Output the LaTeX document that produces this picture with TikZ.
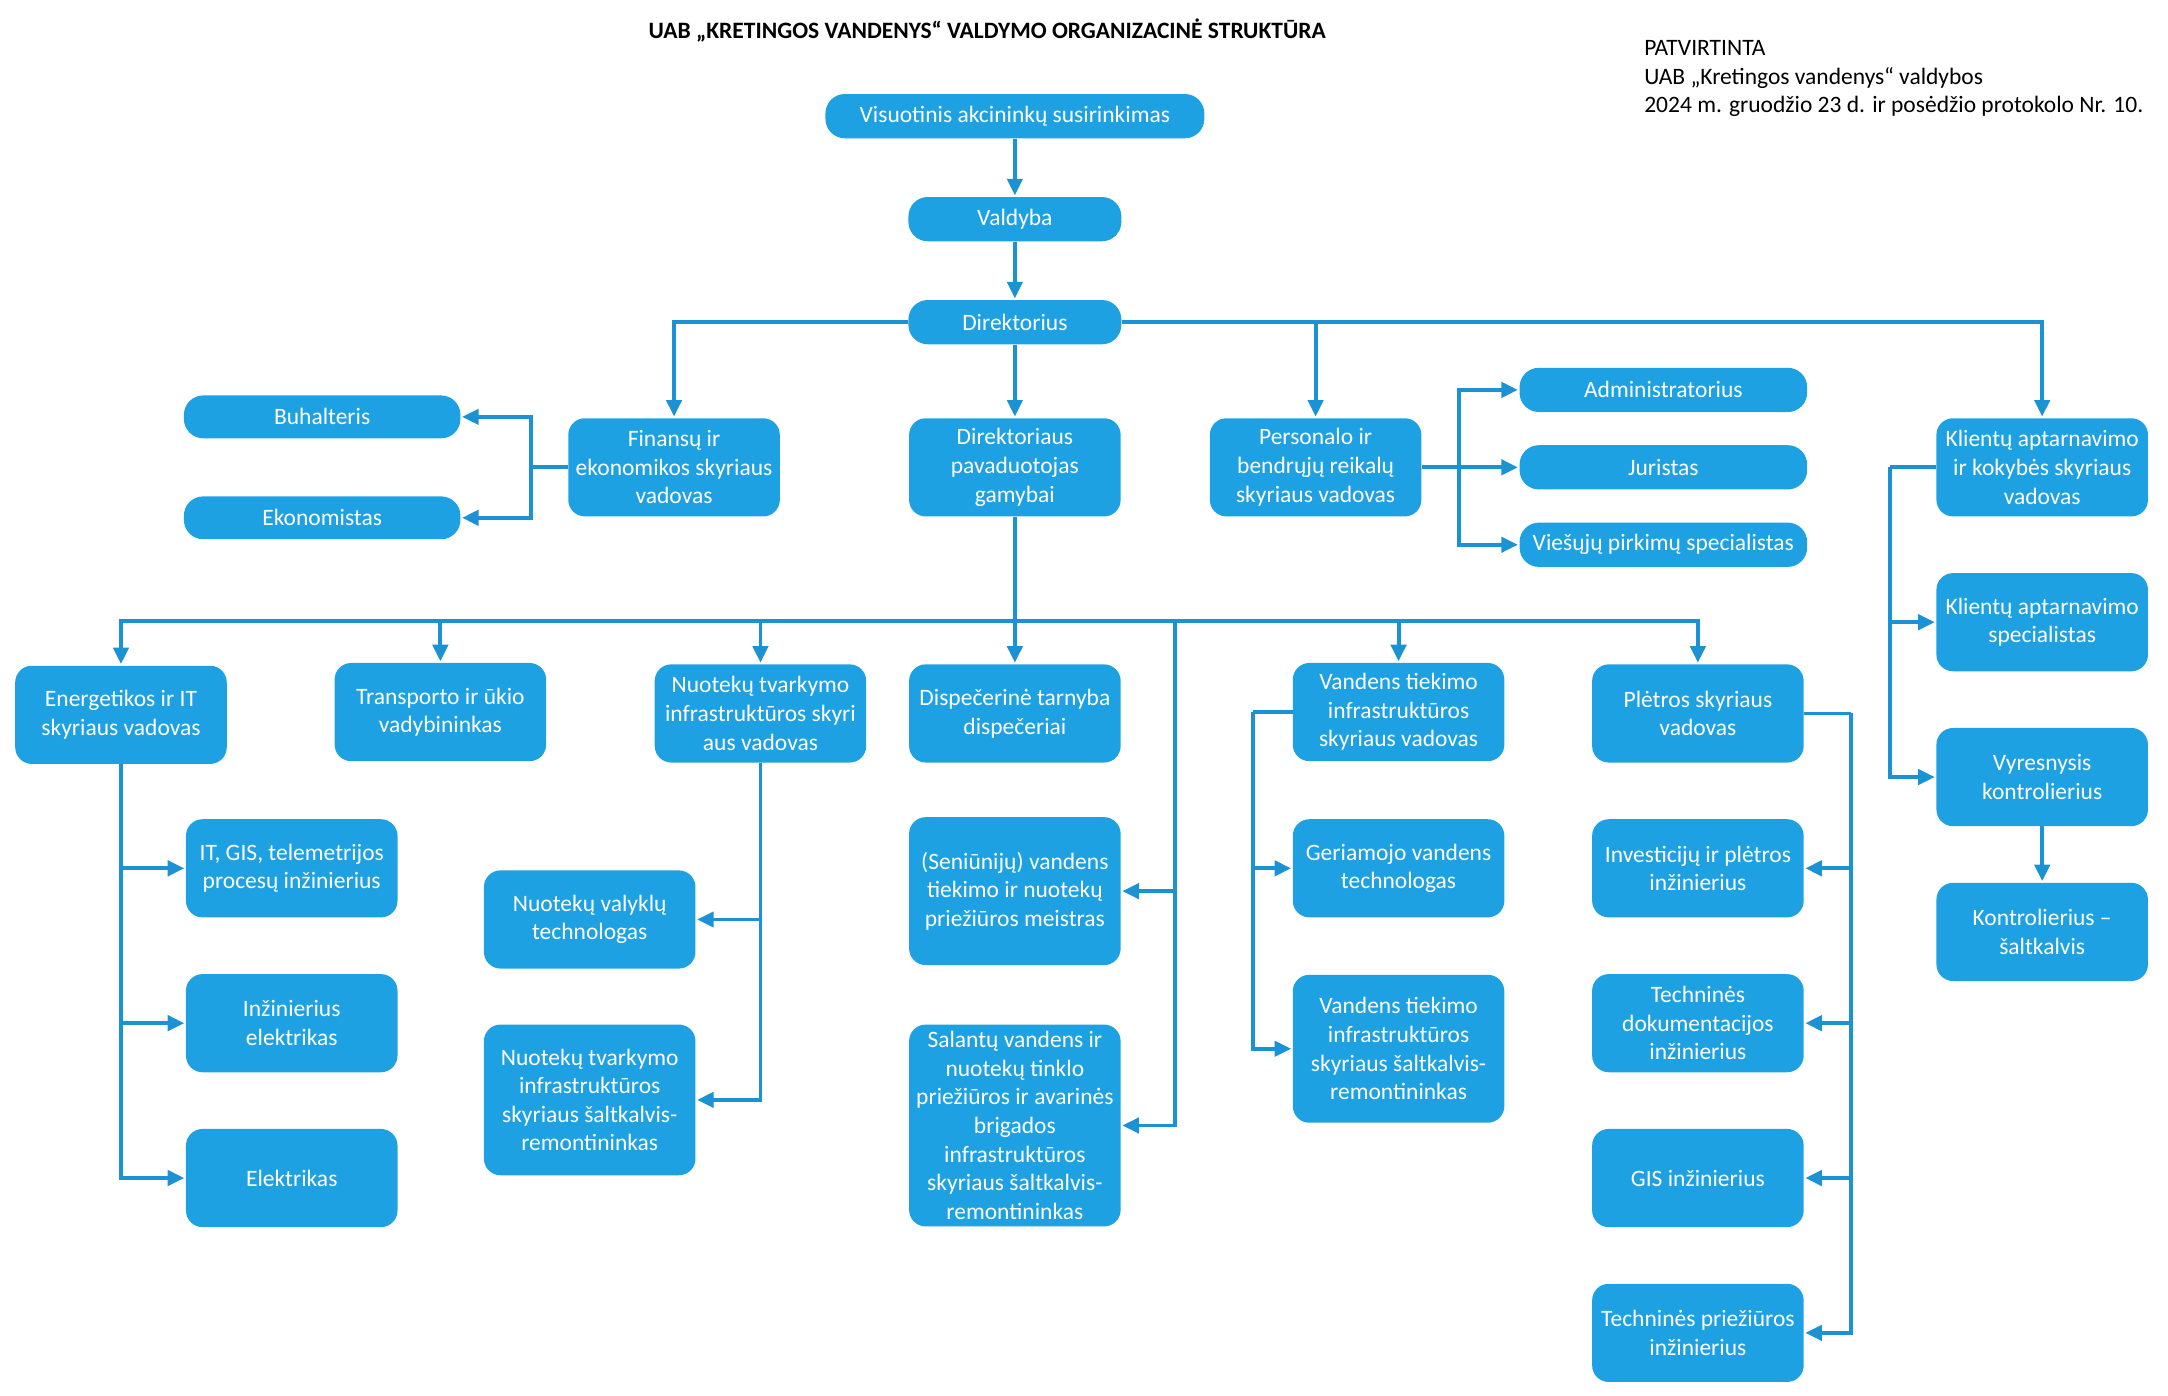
\documentclass[tikz,border=0pt]{standalone}
\usepackage{fontspec}
\setmainfont{Carlito}
\usetikzlibrary{positioning,arrows.meta}
\definecolor{kvblue}{RGB}{29,161,226}
\definecolor{kvline}{RGB}{27,146,212}
\begin{document}
\begin{tikzpicture}[x=1pt, y=-1pt, font=\fontsize{17pt}{20.7pt}\selectfont,
   box/.style={rounded corners=12pt, fill=kvblue, text=white, align=center, inner sep=2pt, minimum width=153pt, minimum height=71pt},
   pill/.style={box, minimum height=32pt, rounded corners=14pt},
   link/.style={draw=kvline, line width=2.8pt, -{Triangle[length=12pt,width=11pt]}, shorten >=1pt},
   bar/.style={draw=kvline, line width=2.8pt},
   node distance=112pt]
   \useasboundingbox (0,0) rectangle (1568,1009);
   % headings
   \node     (T) at (714,22) {\bfseries UAB „KRETINGOS VANDENYS“ VALDYMO ORGANIZACINĖ STRUKTŪRA};
   \node     (P) [anchor=north west, align=left, inner sep=0pt] at (1189,29) {PATVIRTINTA\\ UAB „Kretingos vandenys“ valdybos\\ 2024 m. gruodžio 23 d. ir posėdžio protokolo Nr. 10.};
   % top chain
   \node     (Vis) [pill, minimum width=274pt] at (734,84) {Visuotinis akcininkų susirinkimas};
   \node     (Val) [pill, minimum width=154pt, node distance=74.5pt, below of=Vis] {Valdyba};
   \node     (Dir) [pill, minimum width=154pt, node distance=74.5pt, below of=Val] {Direktorius};
   % second row
   \node     (Fin) [box] at (487.5,338) {Finansų ir\\ ekonomikos skyriaus\\ vadovas};
   \node     (Pav) [box] at (734,338)   {Direktoriaus\\ pavaduotojas\\ gamybai};
   \node     (Per) [box] at (951.5,338) {Personalo ir\\ bendrųjų reikalų\\ skyriaus vadovas};
   \node     (Kli) [box] at (1477,338)  {Klientų aptarnavimo\\ ir kokybės skyriaus\\ vadovas};
   \node     (Buh) [pill, minimum width=200pt, minimum height=31pt] at (233,301.5) {Buhalteris};
   \node     (Eko) [pill, minimum width=200pt, minimum height=31pt] at (233,374.5) {Ekonomistas};
   \node     (Adm) [pill, minimum width=208pt] at (1203,282) {Administratorius};
   \node     (Jur) [pill, minimum width=208pt] at (1203,338) {Juristas};
   \node     (Vie) [pill, minimum width=208pt] at (1203,394) {Viešųjų pirkimų specialistas};
   \node     (Kas) [box, below of=Kli] {Klientų aptarnavimo\\ specialistas};
   \node     (Vyr) [box, below of=Kas] {Vyresnysis\\ kontrolierius};
   \node     (Kon) [box, below of=Vyr] {Kontrolierius –\\ šaltkalvis};
   % third row
   \node     (Ene) [box] at (87.5,517)   {Energetikos ir IT\\ skyriaus vadovas};
   \node     (Tra) [box] at (318.5,515)  {Transporto ir ūkio\\ vadybininkas};
   \node     (Nvd) [box] at (550,516)    {Nuotekų tvarkymo\\ infrastruktūros skyri\\ aus vadovas};
   \node     (Dis) [box] at (734,516)    {Dispečerinė tarnyba\\ dispečeriai};
   \node     (Vvd) [box] at (1011.5,515) {Vandens tiekimo\\ infrastruktūros\\ skyriaus vadovas};
   \node     (Ple) [box] at (1228,516)   {Plėtros skyriaus\\ vadovas};
   % lower boxes
   \node     (ITp) [box] at (211,628) {IT, GIS, telemetrijos\\ procesų inžinierius};
   \node     (Ine) [box, below of=ITp] {Inžinierius\\ elektrikas};
   \node     (Ele) [box, below of=Ine] {Elektrikas};
   \node     (Nva) [box] at (426.5,665) {Nuotekų valyklų\\ technologas};
   \node     (Nsr) [box, minimum height=109pt] at (426.5,795.5) {Nuotekų tvarkymo\\ infrastruktūros\\ skyriaus šaltkalvis-\\ remontininkas};
   \node     (Sen) [box, minimum height=107pt] at (734,644.5) {(Seniūnijų) vandens\\ tiekimo ir nuotekų\\ priežiūros meistras};
   \node     (Sal) [box, minimum height=146pt] at (734,814) {Salantų vandens ir\\ nuotekų tinklo\\ priežiūros ir avarinės\\ brigados\\ infrastruktūros\\ skyriaus šaltkalvis-\\ remontininkas};
   \node     (Ger) [box] at (1011.5,628) {Geriamojo vandens\\ technologas};
   \node     (Vsr) [box, minimum height=107pt] at (1011.5,758.5) {Vandens tiekimo\\ infrastruktūros\\ skyriaus šaltkalvis-\\ remontininkas};
   \node     (Inv) [box, below of=Ple] {Investicijų ir plėtros\\ inžinierius};
   \node     (Tdi) [box, below of=Inv] {Techninės\\ dokumentacijos\\ inžinierius};
   \node     (Gis) [box, below of=Tdi] {GIS inžinierius};
   \node     (Tpi) [box, below of=Gis] {Techninės priežiūros\\ inžinierius};
   % junctions
   \coordinate (fj) at (384,338);
   \coordinate (pj) at (1055,338);
   \coordinate (kj) at (1367,338);
   \coordinate (gj) at (734,449);
   \coordinate (sj) at (850,449);
   \coordinate (vj) at (906,515);
   \coordinate (lj) at (1339,516);
   % connectors
   \draw[link] (Vis) -- (Val);
   \draw[link] (Val) -- (Dir);
   \draw[link] (Dir) -- (Pav);
   \draw[link] (Dir) -| (Fin);
   \draw[link] (Dir) -| (Per);
   \draw[link] (Dir) -| (Kli);
   \draw[bar]  (Fin) -- (fj);
   \draw[link] (fj) |- (Buh);
   \draw[link] (fj) |- (Eko);
   \draw[bar]  (Per) -- (pj);
   \draw[link] (pj) |- (Adm);
   \draw[link] (pj) -- (Jur);
   \draw[link] (pj) |- (Vie);
   \draw[bar]  (Kli) -- (kj);
   \draw[link] (kj) |- (Kas);
   \draw[link] (kj) |- (Vyr);
   \draw[link] (Vyr) -- (Kon);
   \draw[bar]  (Pav) -- (gj);
   \draw[link] (gj) -| (Ene);
   \draw[link] (gj) -| (Tra);
   \draw[link] (gj) -| (Nvd);
   \draw[link] (gj) -- (Dis);
   \draw[link] (gj) -| (Vvd);
   \draw[link] (gj) -| (Ple);
   \draw[link] (sj) |- (Sen);
   \draw[link] (sj) |- (Sal);
   \draw[link] (Ene) |- (ITp);
   \draw[link] (Ene) |- (Ine);
   \draw[link] (Ene) |- (Ele);
   \draw[link] (Nvd) |- (Nva);
   \draw[link] (Nvd) |- (Nsr);
   \draw[bar]  (Vvd) -- (vj);
   \draw[link] (vj) |- (Ger);
   \draw[link] (vj) |- (Vsr);
   \draw[bar]  (Ple) -- (lj);
   \draw[link] (lj) |- (Inv);
   \draw[link] (lj) |- (Tdi);
   \draw[link] (lj) |- (Gis);
   \draw[link] (lj) |- (Tpi);
\end{tikzpicture}
\end{document}
